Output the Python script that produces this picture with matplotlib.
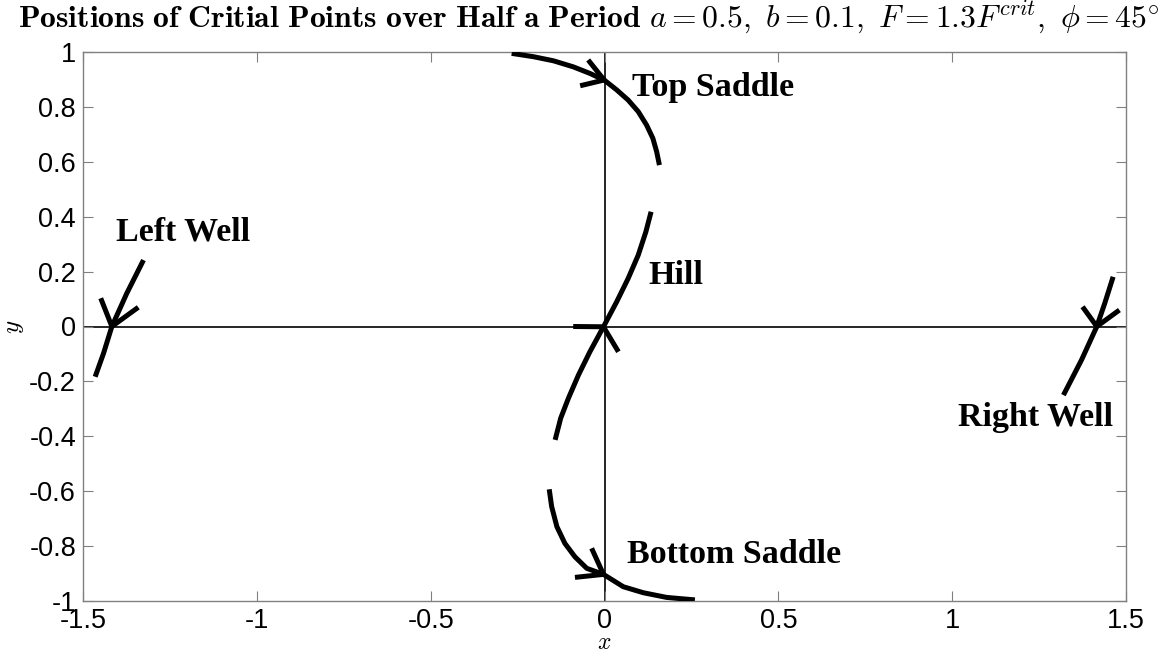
import matplotlib
matplotlib.use("Agg")
import matplotlib.pyplot as plt

plt.rcParams['mathtext.fontset'] = 'cm'

# Trajectories of critical points
top_x = [-0.267, -0.205, -0.147, -0.090, -0.042, -0.001, 0.035, 0.068, 0.097, 0.121, 0.139, 0.150, 0.158]
top_y = [0.995, 0.983, 0.968, 0.946, 0.922, 0.898, 0.862, 0.825, 0.783, 0.734, 0.686, 0.637, 0.588]

hill_x = [-0.142, -0.126, -0.104, -0.075, -0.042, -0.003, 0.035, 0.068, 0.097, 0.119, 0.134]
hill_y = [-0.413, -0.334, -0.262, -0.177, -0.092, -0.001, 0.090, 0.175, 0.260, 0.345, 0.418]

bot_x = [-0.159, -0.152, -0.137, -0.114, -0.085, -0.051, -0.003, 0.054, 0.112, 0.179, 0.260]
bot_y = [-0.593, -0.656, -0.729, -0.790, -0.839, -0.881, -0.903, -0.948, -0.970, -0.987, -0.996]

lw_x = [-1.326, -1.374, -1.417, -1.441, -1.465]
lw_y = [0.242, 0.121, 0.0, -0.098, -0.183]

rw_x = [1.463, 1.439, 1.416, 1.372, 1.320]
rw_y = [0.181, 0.085, 0.0, -0.122, -0.250]

# Arrowheads: tip and two arm end points
arrow_tip_x = [-0.001, -0.003, -0.003, -1.417, 1.416]
arrow_tip_y = [0.898, -0.001, -0.903, 0.0, 0.0]
arm1_x = [-0.047, -0.090, -0.037, -1.449, 1.375]
arm1_y = [0.971, 0.0, -0.808, 0.103, 0.072]
arm2_x = [-0.070, 0.040, -0.085, -1.341, 1.481]
arm2_y = [0.877, -0.092, -0.914, 0.070, 0.060]

labels = ["Top Saddle", "Left Well", "Hill", "Right Well", "Bottom Saddle"]
label_x = [0.079, -1.405, 0.125, 1.017, 0.064]
label_y = [0.869, 0.344, 0.184, -0.33, -0.832]

xticks = [-1.5, -1, -0.5, 0, 0.5, 1, 1.5]
xticklabels = ["-1.5", "-1", "-0.5", "0", "0.5", "1", "1.5"]
yticks = [-1, -0.8, -0.6, -0.4, -0.2, 0, 0.2, 0.4, 0.6, 0.8, 1]
yticklabels = ["-1", "-0.8", "-0.6", "-0.4", "-0.2", "0", "0.2", "0.4", "0.6", "0.8", "1"]

fig = plt.figure(figsize=(11.66, 6.53), dpi=100)
ax = fig.add_axes([83/1166, 1-601/653, (1126-83)/1166, (601-52)/653])

# zero lines
ax.axhline(0, color='black', lw=1.2, zorder=1)
ax.axvline(0, color='black', lw=1.2, zorder=1)

clw = 3.6
for xs, ys in [(top_x, top_y), (hill_x, hill_y), (bot_x, bot_y), (lw_x, lw_y), (rw_x, rw_y)]:
    ax.plot(xs, ys, color='black', lw=clw, solid_capstyle='butt',
            solid_joinstyle='round', zorder=3)

for i in range(len(arrow_tip_x)):
    ax.plot([arm1_x[i], arrow_tip_x[i], arm2_x[i]], [arm1_y[i], arrow_tip_y[i], arm2_y[i]],
            color='black', lw=clw, solid_capstyle='butt', solid_joinstyle='miter', zorder=3)

for t, lx, ly in zip(labels, label_x, label_y):
    ax.text(lx, ly, t, fontsize=24.5, fontweight='bold', family='Liberation Serif',
            ha='left', va='center', zorder=4)

ax.set_xlim(-1.5, 1.5)
ax.set_ylim(-1, 1)
ax.set_xticks(xticks)
ax.set_xticklabels(xticklabels)
ax.set_yticks(yticks)
ax.set_yticklabels(yticklabels)
ax.tick_params(direction='in', length=7, width=0.8, color='#808080', labelsize=19.5,
               top=True, right=True, pad=5)
for lab in ax.get_xticklabels() + ax.get_yticklabels():
    lab.set_family('Liberation Sans')
for s in ax.spines.values():
    s.set_color('#808080')
    s.set_linewidth(1.0)

ax.set_xlabel(r'$x$', fontsize=17, labelpad=-2.5)
ax.set_ylabel(r'$y$', fontsize=18, labelpad=2)

fig.text(589/1166, 1-17/653,
         r'$\mathbf{Positions\ of\ Critial\ Points\ over\ Half\ a\ Period}\ a=0.5,\ b=0.1,\ F=1.3F^{crit},\ \phi=45^{\circ}$',
         fontsize=22.8, ha='center', va='center')

fig.savefig('out.png', dpi=100)
